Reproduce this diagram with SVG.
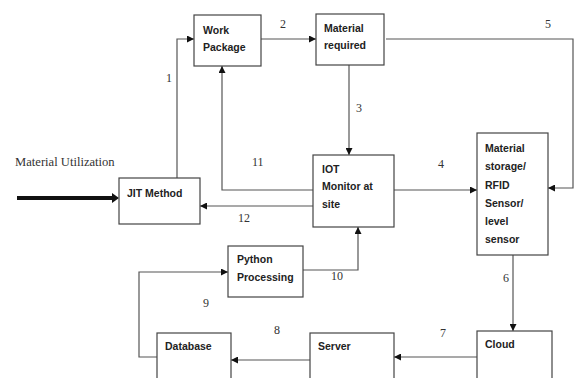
<svg xmlns="http://www.w3.org/2000/svg" width="575" height="378" viewBox="0 0 575 378">
<defs>
<style>
.box{fill:#fff;stroke:#444;stroke-width:1.2}
.t{font-family:"Liberation Sans",Arial,sans-serif;font-weight:bold;font-size:10.5px;fill:#222}
.n{font-family:"Liberation Serif","Times New Roman",serif;font-size:12px;fill:#333}
.c{fill:none;stroke:#555;stroke-width:1.2}
</style>
<marker id="ah" viewBox="0 0 10 10" refX="10" refY="5" markerWidth="7" markerHeight="7" markerUnits="userSpaceOnUse" orient="auto">
<path d="M0,0 L10,5 L0,10 z" fill="#111"/>
</marker>
</defs>
<rect width="575" height="378" fill="#fff"/>
<text class="n" x="15" y="166" style="font-size:12.6px">Material Utilization</text>
<g id="connectors">
<line x1="17" y1="198" x2="112" y2="198" stroke="#111" stroke-width="4"/>
<path d="M112,193 L119,198 L112,203 z" fill="#111"/>
<path class="c" d="M177,178 V39 H194" marker-end="url(#ah)"/>
<path class="c" d="M261,39 H316" marker-end="url(#ah)"/>
<path class="c" d="M349,65 V155" marker-end="url(#ah)"/>
<path class="c" d="M394,190 H477" marker-end="url(#ah)"/>
<path class="c" d="M386,39 H573 V188 H548" marker-end="url(#ah)"/>
<path class="c" d="M513,255 V331" marker-end="url(#ah)"/>
<path class="c" d="M477,357 H394" marker-end="url(#ah)"/>
<path class="c" d="M310,360 H231" marker-end="url(#ah)"/>
<path class="c" d="M157,357 H139 V272 H228" marker-end="url(#ah)"/>
<path class="c" d="M303,270 H358 V227" marker-end="url(#ah)"/>
<path class="c" d="M313,190 H222 V66" marker-end="url(#ah)"/>
<path class="c" d="M313,206 H200" marker-end="url(#ah)"/>
<text class="n" x="166" y="82">1</text>
<text class="n" x="280" y="28">2</text>
<text class="n" x="356" y="112">3</text>
<text class="n" x="438" y="168">4</text>
<text class="n" x="545" y="28">5</text>
<text class="n" x="503" y="282">6</text>
<text class="n" x="440" y="337">7</text>
<text class="n" x="274" y="334">8</text>
<text class="n" x="203" y="307">9</text>
<text class="n" x="331" y="280">10</text>
<text class="n" x="252" y="166">11</text>
<text class="n" x="238" y="222">12</text>
</g>
<g id="work-package">
<rect class="box" x="194" y="15" width="67" height="51"/>
<text class="t" x="203" y="34">Work</text>
<text class="t" x="203" y="51">Package</text>
</g>
<g id="material-required">
<rect class="box" x="316" y="14" width="68" height="51"/>
<text class="t" x="324" y="32">Material</text>
<text class="t" x="324" y="49">required</text>
</g>
<g id="iot-monitor">
<rect class="box" x="313" y="155" width="81" height="72"/>
<text class="t" x="322" y="173">IOT</text>
<text class="t" x="322" y="190">Monitor at</text>
<text class="t" x="322" y="208">site</text>
</g>
<g id="material-storage">
<rect class="box" x="477" y="133" width="71" height="122"/>
<text class="t" x="485" y="152">Material</text>
<text class="t" x="485" y="170">storage/</text>
<text class="t" x="485" y="189">RFID</text>
<text class="t" x="485" y="207">Sensor/</text>
<text class="t" x="485" y="225">level</text>
<text class="t" x="485" y="243">sensor</text>
</g>
<g id="jit-method">
<rect class="box" x="119" y="178" width="81" height="46"/>
<text class="t" x="127" y="197">JIT Method</text>
</g>
<g id="python-processing">
<rect class="box" x="228" y="246" width="75" height="51"/>
<text class="t" x="237" y="263">Python</text>
<text class="t" x="237" y="281">Processing</text>
</g>
<g id="database">
<rect class="box" x="157" y="333" width="74" height="60"/>
<text class="t" x="165" y="350">Database</text>
</g>
<g id="server">
<rect class="box" x="310" y="333" width="84" height="60"/>
<text class="t" x="318" y="350">Server</text>
</g>
<g id="cloud">
<rect class="box" x="477" y="331" width="75" height="62"/>
<text class="t" x="485" y="348">Cloud</text>
</g>
</svg>
